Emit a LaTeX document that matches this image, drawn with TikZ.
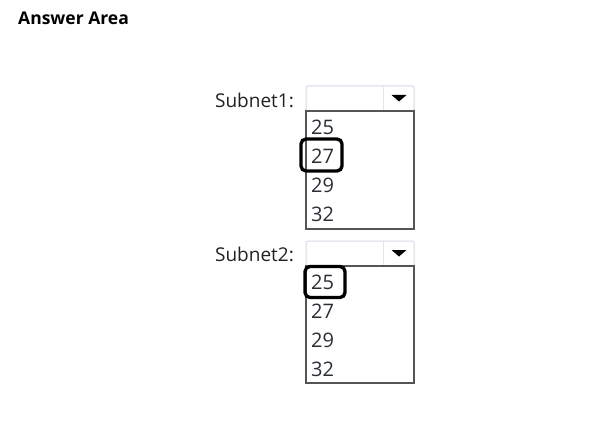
\documentclass[tikz,border=0pt]{standalone}
\usepackage{fontspec}
\setmainfont{Open Sans}
\begin{document}
\begin{tikzpicture}[x=1pt,y=-1pt,
  combo/.style={draw=comboline,line width=1pt,rounded corners=1.5pt,fill=white,anchor=north west,minimum width=108pt,minimum height=25pt,inner sep=0pt,outer sep=0pt},
  listbox/.style={draw=listline,line width=1.4pt,fill=white,anchor=north west,minimum width=108pt,minimum height=118pt,inner sep=0pt,outer sep=0pt},
  item/.style={anchor=west,inner sep=0pt,text=itemtext,font=\fontsize{20}{20}\selectfont},
  lbl/.style={anchor=east,inner sep=0pt,text=labeltext,font=\fontsize{19}{19}\selectfont},
  pick/.style={draw=black,line width=3.3pt,rounded corners=5pt,inner sep=0pt,minimum width=40pt,minimum height=31pt},
]
\definecolor{comboline}{HTML}{D6D9E6}
\definecolor{listline}{HTML}{555555}
\definecolor{itemtext}{HTML}{2A2E36}
\definecolor{labeltext}{HTML}{222222}
\definecolor{divline}{HTML}{E4E6EC}
\useasboundingbox (0,0) rectangle (602,425);
\fill[white] (0,0) rectangle (602,425);

\node[anchor=west,inner sep=0pt,font=\fontsize{17.5}{17.5}\selectfont\bfseries] (title) at (18,18) {Answer Area};

% Subnet1
\node[lbl] (l1) at (294,100) {Subnet1:};
\node[combo] (c1) at (306,86) {};
\draw[divline,line width=1pt] (383,87) -- (383,110);
\fill[black] (391.5,95) -- (406.5,95) -- (399,101.5) -- cycle;
\node[listbox] (b1) at (306,111) {};
\node[item] (a25) at (311,127) {25};
\node[item] (a27) at (311,156) {27};
\node[item] (a29) at (311,185) {29};
\node[item] (a32) at (311,214) {32};
\node[pick,minimum width=41pt,minimum height=32pt] (p1) at (321.5,155) {};

% Subnet2
\node[lbl] (l2) at (294,254) {Subnet2:};
\node[combo] (c2) at (306,241) {};
\draw[divline,line width=1pt] (383,242) -- (383,265);
\fill[black] (391.5,250) -- (406.5,250) -- (399,256.5) -- cycle;
\node[listbox,minimum height=117pt] (b2) at (306,266) {};
\node[item] (b25) at (311,282) {25};
\node[item] (b27) at (311,311) {27};
\node[item] (b29) at (311,340) {29};
\node[item] (b32) at (311,369) {32};
\node[pick] (p2) at (325,282) {};
\end{tikzpicture}
\end{document}
